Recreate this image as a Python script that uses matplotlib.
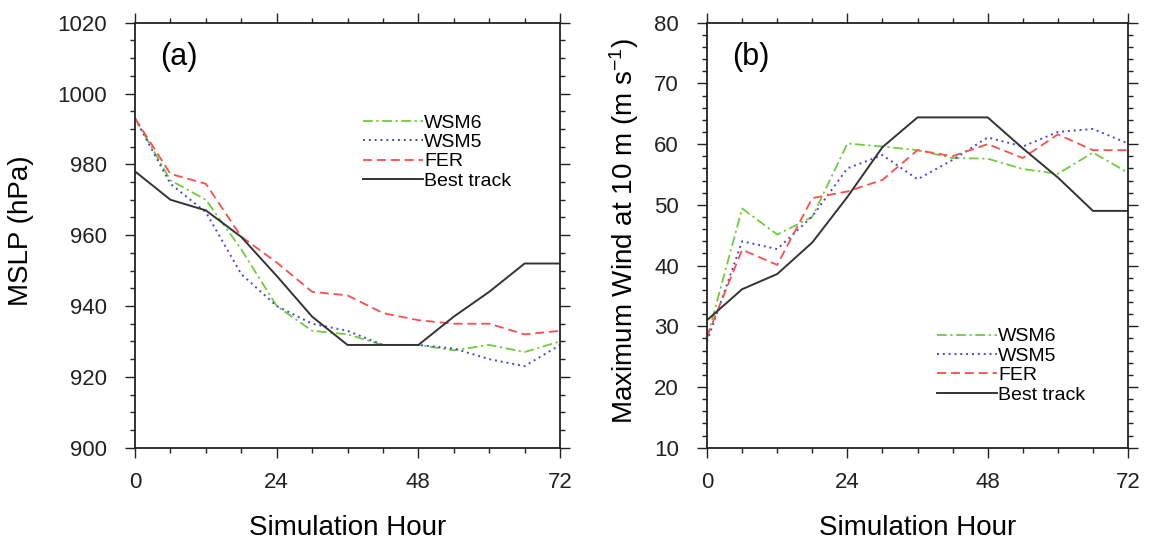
import matplotlib
matplotlib.use("Agg")
import matplotlib.pyplot as plt
from matplotlib.ticker import MultipleLocator

plt.rcParams["font.family"] = ["Liberation Sans", "DejaVu Sans"]
plt.rcParams["mathtext.fontset"] = "custom"
plt.rcParams["mathtext.rm"] = "Liberation Sans"
plt.rcParams["mathtext.it"] = "Liberation Sans"
plt.rcParams["lines.scale_dashes"] = False

# %%
hours = [0, 6, 12, 18, 24, 30, 36, 42, 48, 54, 60, 66, 72]

# (a) minimum sea level pressure [hPa]
mslp_wsm6 = [993, 975.5, 970, 956, 940, 933, 932, 929, 929, 927.5, 929, 927, 930]
mslp_wsm5 = [993, 974.5, 966.5, 949, 940, 935, 933, 929, 929, 928, 925, 923, 929]
mslp_fer = [993, 977.3, 974.5, 959.6, 952.3, 944, 943, 938, 936, 935, 935, 932, 933]
mslp_best = [978, 970, 967, 959.5, 948.5, 937, 929, 929, 929, 937, 944, 952, 952]

# (b) maximum 10 m wind [m s-1]
wind_wsm6 = [28, 49.4, 45.1, 48, 60.1, 59.6, 59, 57.7, 57.6, 55.9, 55.1, 58.6, 55.3]
wind_wsm5 = [27.5, 44, 42.7, 48.1, 56, 58.2, 54.2, 57.4, 61.1, 59.6, 62, 62.5, 60.1]
wind_fer = [28.3, 42.6, 40.1, 51.1, 52.2, 54.1, 59, 58, 60, 57.7, 61.6, 59, 59]
wind_best = [31, 36.1, 38.6, 43.8, 51.3, 59.5, 64.4, 64.4, 64.4, 59.3, 54.5, 49, 49]

labels = ["WSM6", "WSM5", "FER", "Best track"]

# %%
styles = [
    dict(color="#6fcc3a", lw=1.3, dashes=(7, 2.6, 1.6, 2.6)),
    dict(color="#4646d8", lw=1.4, dashes=(1.4, 2.8)),
    dict(color="#ff4c4c", lw=1.3, dashes=(6.5, 3.5)),
    dict(color="#333333", lw=1.4, linestyle="-"),
]

fig = plt.figure(figsize=(11.54, 5.40), dpi=100)
ax_a = fig.add_axes([0.117, 0.171, 0.3683, 0.787])
ax_b = fig.add_axes([0.6127, 0.171, 0.3648, 0.787])

panels = [
    (ax_a, [mslp_wsm6, mslp_wsm5, mslp_fer, mslp_best], (900, 1020), 20, 5,
     "MSLP (hPa)", "(a)", (0.536, 0.785), -0.238),
    (ax_b, [wind_wsm6, wind_wsm5, wind_fer, wind_best], (10, 80), 10, 2,
     r"Maximum Wind at 10 m (m s$^{-1}$)", "(b)", (0.546, 0.282), -0.157),
]

for ax, series, ylim, ymaj, ymin, ylabel, tag, leg_pos, ylab_x in panels:
    for vals, lab, st in zip(series, labels, styles):
        ax.plot(hours, vals, label=lab, **st)

    ax.set_xlim(0, 72)
    ax.set_ylim(*ylim)
    ax.xaxis.set_major_locator(MultipleLocator(24))
    ax.xaxis.set_minor_locator(MultipleLocator(6))
    ax.yaxis.set_major_locator(MultipleLocator(ymaj))
    ax.yaxis.set_minor_locator(MultipleLocator(ymin))

    ax.tick_params(which="both", direction="out", top=True, right=True,
                   colors="#222222", width=1.0)
    ax.tick_params(which="major", length=7.2, labelsize=16)
    ax.tick_params(which="minor", length=3.6)
    ax.tick_params(axis="x", which="major", pad=10)
    ax.tick_params(axis="y", which="major", pad=13)
    for sp in ax.spines.values():
        sp.set_linewidth(1.3)
        sp.set_color("#222222")

    ax.set_xlabel("Simulation Hour", fontsize=20)
    ax.xaxis.set_label_coords(0.5, -0.158)
    ax.set_ylabel(ylabel, fontsize=20)
    ax.yaxis.set_label_coords(ylab_x, 0.51)

    ax.text(0.06, 0.92, tag, transform=ax.transAxes, fontsize=22,
            ha="left", va="center")

    ax.legend(loc="upper left", bbox_to_anchor=leg_pos, frameon=False,
              fontsize=14, handlelength=3.1, handletextpad=0.05,
              labelspacing=0.09, borderpad=0, borderaxespad=0)

fig.savefig("out.png", dpi=100)
